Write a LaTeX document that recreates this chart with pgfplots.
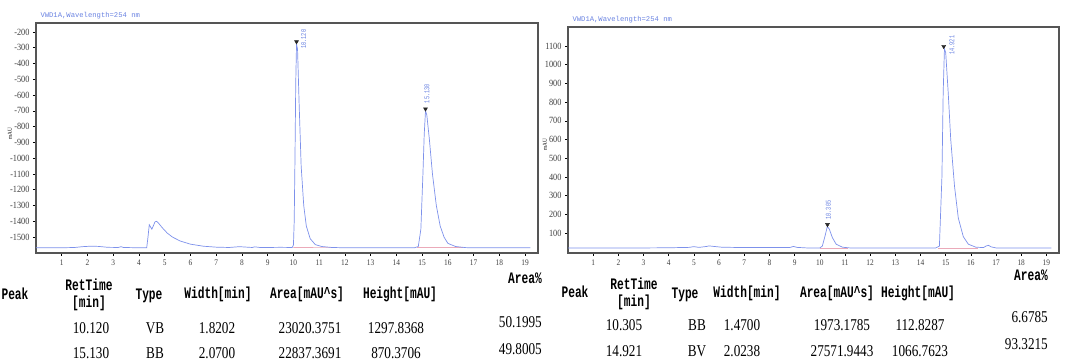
\documentclass[border=0pt]{standalone}
\usepackage{fontspec}
\setmainfont{Liberation Serif}
\newfontfamily\mono{Liberation Mono}
\newfontfamily\hmono[FakeStretch=0.7]{Liberation Mono}
\newfontfamily\nserif[FakeStretch=0.8]{Liberation Serif}
\newfontfamily\tserif[FakeStretch=0.87]{Liberation Serif}
\usepackage{pgfplots}
\pgfplotsset{compat=1.18}
\definecolor{curve}{RGB}{125,145,235}
\definecolor{tblue}{RGB}{105,130,225}
\definecolor{basepink}{RGB}{235,170,185}
\definecolor{axgray}{RGB}{85,85,85}
\newcommand{\hdr}{\hmono\bfseries\fontsize{16}{17}\selectfont}
\newcommand{\num}{\nserif\fontsize{16.5}{17}\selectfont}
\pgfplotsset{
  chrom/.style={
    scale only axis, anchor=south west,
    axis line style={draw=axgray, line width=1.5pt},
    xtick={1,...,19}, xtick pos=bottom, ytick pos=left,
    tick align=outside, major tick length=3pt,
    tick style={black, line width=0.6pt},
    xticklabel style={font=\tserif\fontsize{8.5}{9}\selectfont, text=black!75},
    yticklabel style={font=\tserif\fontsize{9.5}{10}\selectfont, text=black!75},
    /pgf/number format/assume math mode=true,
    /pgf/number format/1000 sep={},
    title style={at={(0,1)}, anchor=south west, xshift=1pt, yshift=-6pt,
      font=\mono\fontsize{7.2}{8}\selectfont, text=tblue},
    title={VWD1A,Wavelength=254 nm},
    ylabel={mAU},
    ylabel style={font=\tserif\fontsize{6}{6}\selectfont, anchor=center},
  },
  curvestyle/.style={color=curve, line width=0.7pt, mark=none},
  peaklabel/.style={draw=none, nodes near coords, point meta=explicit symbolic,
    every node near coord/.append style={rotate=90, anchor=west, inner sep=0.5pt,
      font=\hmono\fontsize{7.5}{8}\selectfont, text=tblue}},
  peakmark/.style={only marks, mark=triangle*, mark size=2.3pt,
    mark options={rotate=180, fill=black!85, draw=black!85}},
}
\begin{document}
\begin{tikzpicture}
\useasboundingbox (0,0) rectangle (1067pt,363pt);
% ---------------- left chromatogram ----------------
\begin{axis}[chrom, at={(36pt,110pt)}, width=502pt, height=230pt,
  xmin=0, xmax=19.5, ymin=-1601, ymax=-143,
  ytick={-1500,-1400,...,-200},
  ylabel style={at={(axis description cs:-0.052,0.52)}}]
\addplot[basepink, line width=0.6pt] coordinates {(10.0,-1566) (11.6,-1567)};
\addplot[basepink, line width=0.6pt] coordinates {(14.8,-1567) (16.6,-1567)};
\addplot[curvestyle] coordinates {
(0,-1568) (1.0,-1568) (1.5,-1566) (1.8,-1561) (2.1,-1558) (2.4,-1559) (2.8,-1565)
(3.2,-1566) (3.3,-1561) (3.4,-1566) (4.0,-1568) (4.3,-1568) (4.35,-1500) (4.40,-1422)
(4.45,-1436) (4.50,-1450) (4.55,-1432) (4.62,-1404) (4.68,-1400) (4.75,-1410) (4.9,-1440)
(5.1,-1475) (5.3,-1500) (5.6,-1525) (6.0,-1545) (6.5,-1558) (7.0,-1564) (7.5,-1566)
(7.9,-1561) (8.1,-1563) (8.4,-1566) (8.5,-1562) (8.7,-1566) (9.0,-1566) (9.5,-1565)
(9.95,-1566) (10.0,-1550) (10.03,-1400) (10.06,-1000) (10.09,-520) (10.12,-275)
(10.16,-310) (10.22,-650) (10.3,-1050) (10.4,-1300) (10.5,-1430) (10.65,-1510)
(10.85,-1548) (11.1,-1560) (11.5,-1566) (12,-1568) (14.7,-1568) (14.85,-1560)
(14.95,-1450) (15.03,-1100) (15.08,-850) (15.13,-700) (15.18,-725) (15.28,-880)
(15.4,-1100) (15.55,-1300) (15.7,-1430) (15.85,-1500) (16.0,-1540) (16.3,-1560)
(16.7,-1567) (17,-1568) (19.2,-1568)};
\addplot[peakmark] coordinates {(10.12,-262) (15.13,-688)};
\addplot[peaklabel] coordinates {(10.40,-310)[10.120] (15.18,-655)[15.130]};
\end{axis}
% ---------------- right chromatogram ----------------
\begin{axis}[chrom, at={(568pt,110pt)}, width=491pt, height=226pt,
  xmin=0, xmax=19.5, ymin=-7, ymax=1202,
  ytick={100,200,...,1100},
  ylabel style={at={(axis description cs:-0.047,0.48)}}]
\addplot[basepink, line width=0.6pt] coordinates {(10.0,20) (11.1,20)};
\addplot[basepink, line width=0.6pt] coordinates {(14.7,20) (16.3,20)};
\addplot[curvestyle] coordinates {
(0,20) (3,20) (4,21) (4.8,23) (5.0,27) (5.2,23) (5.5,28) (5.6,31) (5.8,28) (6.1,24)
(7,22) (8.8,22) (8.95,28) (9.1,23) (9.5,20) (10.0,20) (10.1,30) (10.2,80) (10.3,135)
(10.38,120) (10.5,75) (10.65,40) (10.9,24) (11.2,20) (14.6,20) (14.75,30) (14.85,400)
(14.9,850) (14.95,1085) (15.0,1065) (15.1,850) (15.2,600) (15.35,350) (15.5,180)
(15.7,80) (15.9,40) (16.2,24) (16.5,22) (16.6,30) (16.7,34) (16.8,26) (17.0,20) (19.2,20)};
\addplot[peakmark] coordinates {(10.305,145) (14.921,1098)};
\addplot[peaklabel] coordinates {(10.34,168)[10.305] (15.25,1050)[14.921]};
\end{axis}
% ---------------- left table ----------------
\node[font=\hdr] at (15pt,69pt) {Peak};
\node[font=\hdr, align=center, inner sep=0pt] at (89pt,68pt) {RetTime\\{}{[min]}};
\node[font=\hdr] at (149pt,67pt) {Type};
\node[font=\hdr] at (218pt,69pt) {Width[min]};
\node[font=\hdr] at (307pt,69pt) {Area[mAU\textasciicircum s]};
\node[font=\hdr] at (400pt,69pt) {Height[mAU]};
\node[font=\hdr, anchor=east, inner sep=0pt] at (542pt,85pt) {Area\%};
\node[font=\num] at (91pt,35pt) {10.120};
\node[font=\num] at (155pt,35pt) {VB};
\node[font=\num] at (217pt,35pt) {1.8202};
\node[font=\num] at (310pt,35pt) {23020.3751};
\node[font=\num] at (396pt,35pt) {1297.8368};
\node[font=\num, anchor=east, inner sep=0pt] at (542pt,41pt) {50.1995};
\node[font=\num] at (91pt,10pt) {15.130};
\node[font=\num] at (155pt,10pt) {BB};
\node[font=\num] at (217pt,10pt) {2.0700};
\node[font=\num] at (310pt,10pt) {22837.3691};
\node[font=\num] at (396pt,10pt) {870.3706};
\node[font=\num, anchor=east, inner sep=0pt] at (542pt,14pt) {49.8005};
% ---------------- right table ----------------
\node[font=\hdr] at (575pt,71pt) {Peak};
\node[font=\hdr, align=center, inner sep=0pt] at (634pt,69pt) {RetTime\\{}{[min]}};
\node[font=\hdr] at (685pt,68pt) {Type};
\node[font=\hdr] at (747pt,70pt) {Width[min]};
\node[font=\hdr] at (837pt,70pt) {Area[mAU\textasciicircum s]};
\node[font=\hdr] at (918pt,70pt) {Height[mAU]};
\node[font=\hdr, anchor=east, inner sep=0pt] at (1048pt,88pt) {Area\%};
\node[font=\num] at (624pt,38pt) {10.305};
\node[font=\num] at (697pt,38pt) {BB};
\node[font=\num] at (742pt,38pt) {1.4700};
\node[font=\num] at (842pt,38pt) {1973.1785};
\node[font=\num] at (920pt,38pt) {112.8287};
\node[font=\num, anchor=east, inner sep=0pt] at (1048pt,46pt) {6.6785};
\node[font=\num] at (624pt,12pt) {14.921};
\node[font=\num] at (697pt,12pt) {BV};
\node[font=\num] at (742pt,12pt) {2.0238};
\node[font=\num] at (842pt,12pt) {27571.9443};
\node[font=\num] at (920pt,12pt) {1066.7623};
\node[font=\num, anchor=east, inner sep=0pt] at (1048pt,19pt) {93.3215};
\end{tikzpicture}
\end{document}
